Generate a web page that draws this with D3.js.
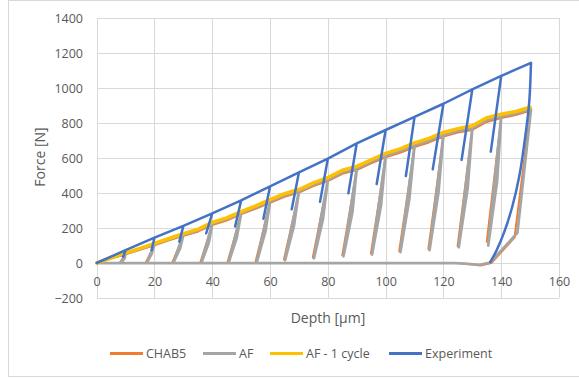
<!DOCTYPE html>
<html>
<head>
<meta charset="utf-8">
<script src="https://cdn.jsdelivr.net/npm/d3@7"></script>
<style>
  html, body { margin: 0; padding: 0; background: #fff; }
  svg text { font-family: "Open Sans", "Liberation Sans", sans-serif; fill: #595959; }
</style>
</head>
<body>
<svg id="chart" width="579" height="379"></svg>
<script>
// ---- data -----------------------------------------------------------
// Depths (µm) at which the monotonic loading curves are sampled
const loadDepth = [0,5,10,15,20,25,30,35,40,45,50,55,60,65,70,75,80,85,90,95,100,105,110,115,120,125,130,135,140,145,150];
// Loading branch, force [N]
const afOneCycleLoad = [0,30,58,84,112,140,168,192,232,258,294,326,362,396,420,458,488,530,552,590,626,652,686,712,746,768,784,830,850,866,890];
const afLoad         = [0,27,53,79,106,134,161,185,224,250,286,317,352,386,410,447,476,518,540,578,613,639,672,699,732,755,771,816,838,854,878];
const chab5Load      = [0,25,50,75,101,129,155,179,217,243,279,310,344,378,402,439,468,510,531,569,604,630,663,689,722,745,760,806,828,845,870];

// Partial unloading cycles
const cycleDepth = [10,20,30,40,50,60,70,80,90,100,110,120,130,140];
const afUnloadEnd   = [[8.3,0],[17.3,0],[26.5,0],[36.2,0],[45.6,0],[55.4,5],[65.2,16],[75.2,27],[85.4,38],[95.3,48],[105.1,62],[115.2,74],[125.3,90],[135.5,100]];
const afReloadMid   = [[9.6,25],[19.1,55],[28.9,85],[38.8,115],[48.5,145],[58.4,180],[68.3,215],[78.3,250],[88.5,290],[98.4,330],[108.2,365],[118.3,405],[128.4,430],[138.6,470]];
const chab5UnloadEnd = [[7.9,0],[16.9,0],[26.1,0],[35.8,0],[45.2,0],[55.0,8],[64.8,20],[74.8,32],[85.0,44],[94.9,54],[104.7,68],[114.8,80],[124.9,96],[135.0,122]];

// Final unloading down to zero force and retraction
const afFinalUnload    = [[150.3,878],[145.6,172],[136.2,3],[132.5,-10],[128.5,-5],[124,0],[0,0]];
const chab5FinalUnload = [[150.1,870],[144.6,145],[136.6,0],[132.8,-14],[128.5,-6],[124,0],[0,0]];

// Experiment: peak of every cycle, bottom of every partial unload, final unload
const expPeakDepth = [0,10,20,30,40,50,60,70,80,90,100,110,120,130,140,150.3];
const expPeakForce = [0,74,145,212,284,358,438,518,596,684,760,835,910,992,1069,1143];
const expUnloadEnd = [[9.2,36],[19.0,74],[28.6,122],[37.9,170],[47.9,209],[57.7,253],[67.5,307],[77.3,350],[87.1,398],[96.9,451],[107.0,497],[116.3,535],[126.3,589],[136.4,636]];
const expFinalUnload = [[149.7,920],[148.3,720],[146.3,500],[143.8,320],[141.0,175],[138.4,72],[136.2,5]];

const xTicks = [0,20,40,60,80,100,120,140,160];
const yTicks = [-200,0,200,400,600,800,1000,1200,1400];

const seriesNames = ["CHAB5","AF","AF - 1 cycle","Experiment"];
const seriesColors = ["#ED7D31","#A5A5A5","#FFC000","#4472C4"];

// ---- layout ---------------------------------------------------------
const svg = d3.select("#chart");
const x = d3.scaleLinear().domain([0,160]).range([96.7,559]);
const y = d3.scaleLinear().domain([-200,1400]).range([298,18]);

// chart border
svg.append("rect")
  .attr("x",8.5).attr("y",0.5).attr("width",600).attr("height",376)
  .attr("fill","none").attr("stroke","#D9D9D9");

// gridlines
const grid = svg.append("g").attr("stroke","#D9D9D9").attr("stroke-width",1).attr("shape-rendering","crispEdges");
grid.selectAll("line.h").data(yTicks).join("line")
  .attr("x1",x(0)).attr("x2",x(160))
  .attr("y1",d=>Math.round(y(d))+0.5).attr("y2",d=>Math.round(y(d))+0.5);
grid.selectAll("line.v").data(xTicks).join("line")
  .attr("y1",y(1400)).attr("y2",y(-200))
  .attr("x1",d=>Math.round(x(d))+0.5).attr("x2",d=>Math.round(x(d))+0.5);

// axes (labels only; lines are drawn by the grid)
const yAxis = d3.axisLeft(y).tickValues(yTicks).tickFormat(d3.format("d")).tickSize(0).tickPadding(0);
const gy = svg.append("g").attr("transform","translate(83,0)").call(yAxis);
gy.select(".domain").remove();
gy.selectAll("text").attr("font-size",12.5).attr("font-family",null).attr("fill",null);

const xAxis = d3.axisBottom(x).tickValues(xTicks).tickFormat(d3.format("d")).tickSize(0).tickPadding(0);
const gx = svg.append("g").attr("transform",`translate(0,${y(0)+14})`).call(xAxis);
gx.select(".domain").remove();
gx.selectAll("text").attr("font-size",12.5).attr("font-family",null).attr("fill",null);

// axis titles
svg.append("text").attr("x",328).attr("y",323).attr("text-anchor","middle")
  .attr("font-size",14).text("Depth [µm]");
svg.append("text").attr("transform","translate(45,157) rotate(-90)").attr("text-anchor","middle")
  .attr("font-size",14).text("Force [N]");

// ---- series paths -----------------------------------------------------
function cyclicPath(load, unloadEnd, reloadMid, finalUnload){
  const pts = [];
  loadDepth.forEach((d,i)=>{
    pts.push([d, load[i]]);
    const k = cycleDepth.indexOf(d);
    if (k >= 0) {
      pts.push(unloadEnd[k]);
      if (reloadMid) pts.push(reloadMid[k]);
      pts.push([d, load[i]]);
    }
  });
  return pts.concat(finalUnload);
}

function experimentCycles(){
  const pts = [];
  expPeakDepth.forEach((d,i)=>{
    pts.push([d, expPeakForce[i]]);
    if (i > 0 && i <= expUnloadEnd.length) {
      pts.push(expUnloadEnd[i-1]);
      pts.push([d, expPeakForce[i]]);
    }
  });
  return pts;
}

const line = d3.line().x(d=>x(d[0])).y(d=>y(d[1]));
const smooth = d3.line().x(d=>x(d[0])).y(d=>y(d[1])).curve(d3.curveCatmullRom.alpha(0.5));
const plot = svg.append("g").attr("fill","none").attr("stroke-linejoin","round").attr("stroke-linecap","round");

plot.append("path").attr("d", line(cyclicPath(chab5Load, chab5UnloadEnd, null, chab5FinalUnload)))
  .attr("stroke", seriesColors[0]).attr("stroke-width",2);
plot.append("path").attr("d", line(cyclicPath(afLoad, afUnloadEnd, afReloadMid, afFinalUnload)))
  .attr("stroke", seriesColors[1]).attr("stroke-width",2.75);
plot.append("path").attr("d", line(loadDepth.map((d,i)=>[d, afOneCycleLoad[i]])))
  .attr("stroke", seriesColors[2]).attr("stroke-width",3.5);

const last = expPeakDepth.length - 1;
plot.append("path").attr("d", line(experimentCycles()))
  .attr("stroke", seriesColors[3]).attr("stroke-width",2.5);
plot.append("path").attr("d", smooth([[expPeakDepth[last], expPeakForce[last]]].concat(expFinalUnload)))
  .attr("stroke", seriesColors[3]).attr("stroke-width",2.5);

// ---- legend -----------------------------------------------------------
const legendX = [110, 203, 270, 389];
const lg = svg.append("g");
seriesNames.forEach((name,i)=>{
  lg.append("line").attr("x1",legendX[i]).attr("x2",legendX[i]+33)
    .attr("y1",353.5).attr("y2",353.5)
    .attr("stroke",seriesColors[i]).attr("stroke-width",3);
  lg.append("text").attr("x",legendX[i]+36).attr("y",353.5).attr("dy","0.35em")
    .attr("font-size",12.5).text(name);
});
</script>
</body>
</html>
